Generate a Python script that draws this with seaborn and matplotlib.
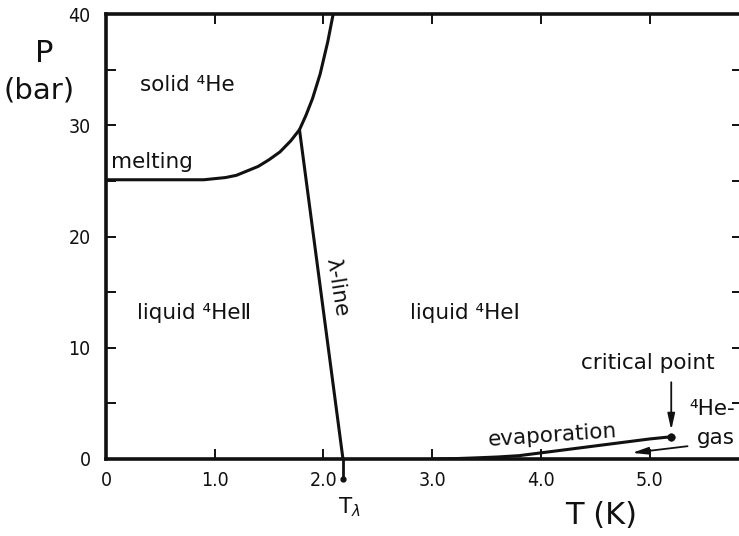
import matplotlib
matplotlib.use("Agg")
import matplotlib.pyplot as plt
import pandas as pd
import seaborn as sns

# Phase boundaries of helium-4 (T in K, P in bar)
melt_T = [0.0, 0.8, 0.9, 1.0, 1.1, 1.2, 1.3, 1.4, 1.5, 1.6, 1.7, 1.78,
          1.84, 1.9, 1.97, 2.04, 2.09]
melt_P = [25.1, 25.1, 25.1, 25.2, 25.3, 25.5, 25.9, 26.3, 26.9, 27.6, 28.6, 29.6,
          30.9, 32.4, 34.6, 37.5, 40.0]

lambda_T = [1.78, 2.18]
lambda_P = [29.6, 0.0]

evap_T = [3.0, 3.2, 3.4, 3.6, 3.8, 4.0, 4.2, 4.4, 4.6, 4.8, 5.0, 5.2]
evap_P = [0.0, 0.03, 0.1, 0.18, 0.3, 0.55, 0.8, 1.05, 1.3, 1.55, 1.8, 2.0]

crit_T = [5.2]
crit_P = [2.0]

x_ticks = [0.0, 1.0, 2.0, 3.0, 4.0, 5.0]
x_tick_labels = ["0", "1.0", "2.0", "3.0", "4.0", "5.0"]
y_ticks = [0, 10, 20, 30, 40]
y_tick_labels = ["0", "10", "20", "30", "40"]
y_minor_ticks = [5, 15, 25, 35]

sns.set_theme(style="ticks")
plt.rcParams["font.family"] = ["DejaVu Sans"]
plt.rcParams["mathtext.fontset"] = "dejavusans"

W, H = 739, 536
fig = plt.figure(figsize=(W / 100, H / 100), dpi=100)
ax = fig.add_axes([106 / W, 77 / H, 636 / W, 445 / H])

ink = "#111111"
lw = 2.2

curves = pd.concat([
    pd.DataFrame({"T": melt_T, "P": melt_P, "curve": "melting"}),
    pd.DataFrame({"T": lambda_T, "P": lambda_P, "curve": "lambda"}),
    pd.DataFrame({"T": evap_T, "P": evap_P, "curve": "evaporation"}),
])
sns.lineplot(data=curves, x="T", y="P", units="curve", estimator=None, sort=False,
             color=ink, linewidth=lw, ax=ax, legend=False)
sns.scatterplot(x=crit_T, y=crit_P, color=ink, s=30, edgecolor=ink, ax=ax, zorder=5)

ax.set_xlim(0, 636 / 108.7)
ax.set_ylim(0, 40)
ax.set_xlabel("")
ax.set_ylabel("")

ax.set_xticks(x_ticks)
ax.set_xticklabels(x_tick_labels)
ax.set_yticks(y_ticks)
ax.set_yticklabels(y_tick_labels)
ax.set_yticks(y_minor_ticks, minor=True)

for s in ax.spines.values():
    s.set_linewidth(2.6)
    s.set_color(ink)
    s.set_visible(True)

ax.tick_params(axis="both", which="both", direction="in", length=7, width=1.4,
               top=True, right=True, color=ink, labelcolor=ink, labelsize=14)
ax.tick_params(axis="x", pad=9)
ax.tick_params(axis="y", pad=11)
for lab in ax.get_xticklabels() + ax.get_yticklabels():
    lab.set_fontstretch("condensed")

# Axis titles
fig.text(44 / W, 1 - 54 / H, "P", fontsize=22, ha="center", va="center", color=ink)
fig.text(39 / W, 1 - 90 / H, "(bar)", fontsize=21, ha="center", va="center", color=ink)
fig.text(601 / W, 1 - 516 / H, "T (K)", fontsize=22, ha="center", va="center", color=ink)

# Region and curve labels
tk = dict(fontsize=15.5, color=ink, clip_on=False)
ax.text(0.745, 33.6, "solid \u2074He", ha="center", va="center", **tk)
ax.text(0.05, 26.7, "melting", ha="left", va="center", **tk)
ax.text(0.81, 13.1, "liquid \u2074He\u2161", ha="center", va="center", **tk)
ax.text(2.12, 15.4, "\u03bb-line", ha="center", va="center", rotation=-81,
        rotation_mode="anchor", **tk)
ax.text(3.30, 13.1, "liquid \u2074He\u2160", ha="center", va="center", **tk)
ax.text(4.98, 8.6, "critical point", ha="center", va="center", **tk)
ax.text(4.11, 2.1, "evaporation", ha="center", va="center", rotation=4, **tk)
ax.text(5.37, 4.5, "\u2074He-", ha="left", va="center", **tk)
ax.text(5.44, 1.9, "gas", ha="left", va="center", **tk)
ax.text(2.24, -4.3, r"T$_\lambda$", ha="center", va="center", **tk)

# Arrows
arrow = dict(arrowstyle="-|>,head_length=0.8,head_width=0.18", color=ink, lw=1.3,
             shrinkA=0, shrinkB=0)
ax.annotate("", xy=(5.2, 2.6), xytext=(5.2, 6.9), arrowprops=arrow, annotation_clip=False)
ax.annotate("", xy=(4.84, 0.55), xytext=(5.35, 1.15), arrowprops=arrow, annotation_clip=False)

# T_lambda marker below the axis
ax.plot([2.18, 2.18], [0, -1.8], color=ink, lw=2.0, clip_on=False, solid_capstyle="round")
ax.plot([2.18], [-1.8], marker="o", ms=3.5, color=ink, clip_on=False)

fig.savefig("out.png", dpi=100)
